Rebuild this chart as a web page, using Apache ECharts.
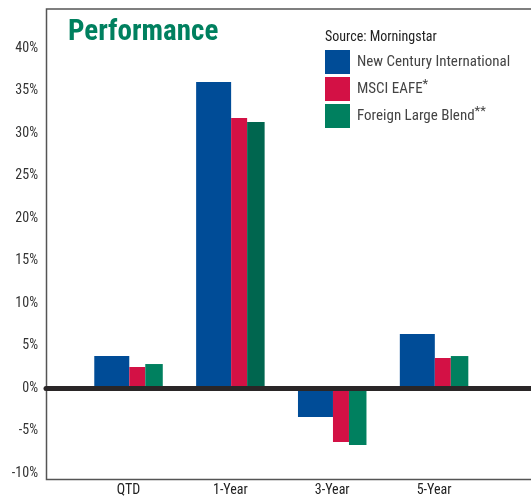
<!DOCTYPE html>
<html>
<head>
<meta charset="utf-8">
<script src="https://cdn.jsdelivr.net/npm/echarts@6/dist/echarts.min.js"></script>
<style>
  html, body { margin: 0; padding: 0; background: #fff; }
  #perf { width: 531px; height: 499px; }
</style>
</head>
<body>
<div id="perf"></div>
<script>
// data
var periods = ['QTD', '1-Year', '3-Year', '5-Year']
var newCentury = [3.76, 36.0, -3.41, 6.35]
var msciEafe = [2.47, 31.76, -6.35, 3.53]
var foreignBlend = [2.82, 31.3, -6.7, 3.76]
var seriesNames = ['New Century International', 'MSCI EAFE*', 'Foreign Large Blend**']
var yTicks = { min: -10, max: 40, step: 5 }

var narrow = "'Liberation Sans Narrow', 'Arial Narrow', 'Roboto Condensed', sans-serif"
var blue = '#004c97'
var red = '#d31145'
var green = '#00805f'

var myChart = echarts.init(document.getElementById('perf'))

// split a name into body + superscript stars for the legend
function legendText(name) {
  var m = name.match(/^(.*?)(\*+)$/)
  if (m) return '{n|' + m[1] + '}{s|' + m[2] + '}'
  return '{n|' + name + '}'
}

var option = {
  animation: false,
  title: [
    {
      text: 'Performance',
      left: 68,
      top: 18,
      padding: 0,
      textStyle: { color: green, fontFamily: narrow, fontWeight: 'bold', fontSize: 29 }
    },
    {
      text: 'Source: Morningstar',
      left: 325,
      top: 30,
      padding: 0,
      textStyle: { color: '#222', fontFamily: narrow, fontWeight: 'normal', fontSize: 14 }
    }
  ],
  legend: {
    data: seriesNames,
    orient: 'vertical',
    left: 325,
    top: 50,
    padding: 0,
    itemWidth: 25,
    itemHeight: 24,
    itemGap: 3,
    icon: 'rect',
    formatter: legendText,
    textStyle: {
      padding: [0, 0, 0, 2],
      rich: {
        n: { fontFamily: narrow, fontSize: 15, color: '#444' },
        s: { fontFamily: narrow, fontSize: 13, color: '#444', verticalAlign: 'top', padding: [0, 0, 8, 0] }
      }
    }
  },
  grid: [
    { left: 46, right: 0, top: 48, bottom: 26 }, // frame + y labels + zero line
    { left: 77.6, right: 46, top: 48, bottom: 26 } // bars
  ],
  xAxis: [
    {
      gridIndex: 0,
      type: 'value',
      min: 0,
      max: 1,
      z: 10,
      axisLine: { show: true, onZero: true, lineStyle: { color: '#2a2627', width: 5 } },
      axisTick: { show: false },
      axisLabel: { show: false },
      splitLine: { show: false }
    },
    {
      gridIndex: 1,
      type: 'category',
      data: periods,
      axisLine: { show: false },
      axisTick: { show: false },
      axisLabel: { margin: 10, fontFamily: narrow, fontSize: 14, color: '#222' }
    }
  ],
  yAxis: [
    {
      gridIndex: 0,
      type: 'value',
      min: yTicks.min,
      max: yTicks.max,
      interval: yTicks.step,
      axisLine: { show: false },
      axisTick: { show: false },
      splitLine: { show: false },
      axisLabel: {
        margin: 8,
        padding: [4, 0, 0, 0], // printed labels sit a touch below the tick
        formatter: '{value}%',
        fontFamily: narrow,
        fontSize: 14,
        color: '#333'
      }
    },
    {
      gridIndex: 1,
      type: 'value',
      min: yTicks.min,
      max: yTicks.max,
      interval: yTicks.step,
      axisLine: { show: false },
      axisTick: { show: false },
      splitLine: { show: false },
      axisLabel: { show: false }
    }
  ],
  series: [
    {
      name: seriesNames[0],
      type: 'bar',
      xAxisIndex: 1,
      yAxisIndex: 1,
      barWidth: 35,
      barGap: '0%',
      itemStyle: { color: blue },
      data: newCentury
    },
    {
      name: seriesNames[1],
      type: 'bar',
      xAxisIndex: 1,
      yAxisIndex: 1,
      barWidth: 16,
      barGap: '0%',
      itemStyle: { color: red },
      data: msciEafe
    },
    {
      name: seriesNames[2],
      type: 'bar',
      xAxisIndex: 1,
      yAxisIndex: 1,
      barWidth: 17.5,
      barGap: '0%',
      itemStyle: { color: green },
      // the 1-Year bar is printed a shade darker
      data: foreignBlend.map(function(v, i) {
        return i === 1 ? { value: v, itemStyle: { color: '#00664f' } } : v
      })
    }
  ],
  graphic: [
    {
      type: 'polyline',
      silent: true,
      shape: { points: [[531, 9], [46.5, 9], [46.5, 479.5], [531, 479.5]] },
      style: { stroke: '#555', lineWidth: 1.5, fill: null }
    }
  ]
}

myChart.setOption(option)
window.addEventListener('resize', function() {
  myChart.resize()
})
</script>
</body>
</html>
